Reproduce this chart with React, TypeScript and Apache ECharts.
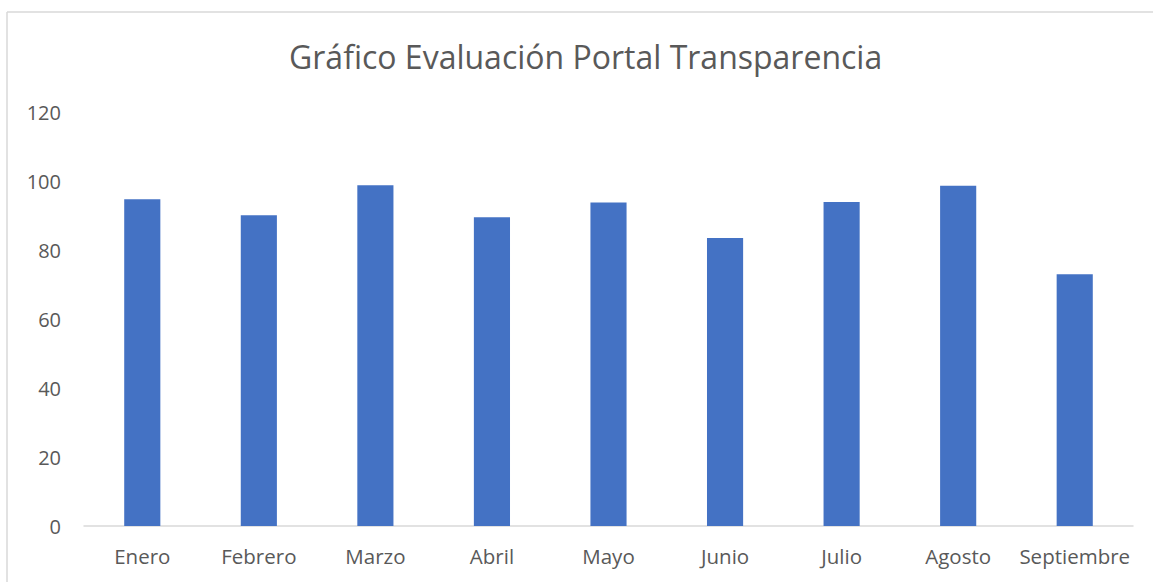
import React, { useEffect, useRef } from "react";
import * as echarts from "echarts";

const titleText = "Gráfico Evaluación Portal Transparencia";
const months = ["Enero", "Febrero", "Marzo", "Abril", "Mayo", "Junio", "Julio", "Agosto", "Septiembre"];
const scores = [94.7, 90.1, 98.8, 89.5, 93.8, 83.5, 93.9, 98.6, 73.0];
const yMin = 0;
const yMax = 120;
const yStep = 20;

export default function App() {
  const ref = useRef<HTMLDivElement>(null);
  useEffect(() => {
    document.body.style.margin = "0";
    if (!ref.current) return;
    const chart = echarts.init(ref.current, null, { renderer: "svg" });
    const font = "'Open Sans', sans-serif";
    chart.setOption({
      animation: false,
      backgroundColor: "#ffffff",
      title: {
        text: titleText,
        left: 284,
        top: 35,
        textStyle: { fontFamily: font, fontSize: 32, fontWeight: "normal", color: "#595959" },
      },
      graphic: [
        { type: "line", shape: { x1: 7, y1: 12, x2: 1153, y2: 12 }, style: { stroke: "#d9d9d9", lineWidth: 1.5 } },
        { type: "line", shape: { x1: 7, y1: 12, x2: 7, y2: 582 }, style: { stroke: "#d9d9d9", lineWidth: 1.5 } },
      ],
      grid: { left: 84, right: 20, top: 112, bottom: 56, containLabel: false },
      xAxis: {
        type: "category",
        data: months,
        axisLine: { show: true, lineStyle: { color: "#d9d9d9", width: 1.5 } },
        axisTick: { show: false },
        axisLabel: { fontFamily: font, fontSize: 20.5, color: "#595959", margin: 19, interval: 0 },
      },
      yAxis: {
        type: "value",
        min: yMin,
        max: yMax,
        interval: yStep,
        axisLine: { show: false },
        axisTick: { show: false },
        splitLine: { show: false },
        axisLabel: { fontFamily: font, fontSize: 20, color: "#595959", margin: 23 },
      },
      series: [
        {
          type: "bar",
          data: scores,
          barWidth: "31%",
          itemStyle: { color: "#4472C4" },
        },
      ],
    });
    return () => chart.dispose();
  }, []);
  return <div ref={ref} style={{ width: 1153, height: 582 }} />;
}
